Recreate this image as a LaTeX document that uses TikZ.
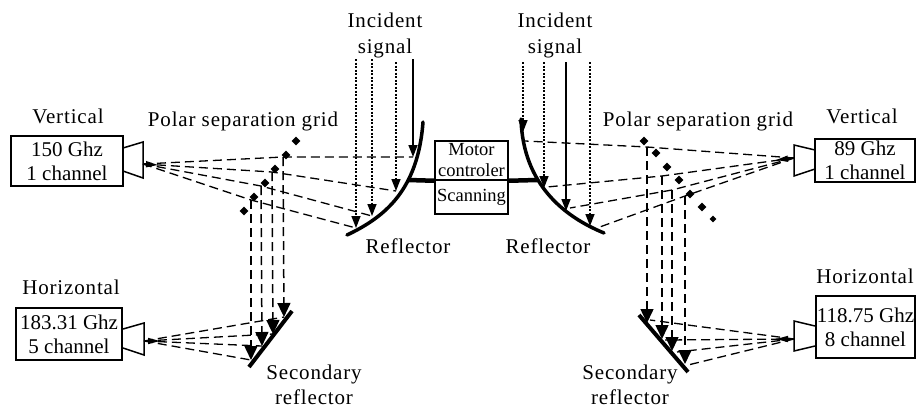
\documentclass[tikz,border=0pt]{standalone}
\usepackage{fontspec}
\setmainfont[LetterSpace=4]{Liberation Serif}
\newfontfamily\boxfont{Liberation Serif}
\usepackage{tikz}
\usetikzlibrary{arrows.meta}
\usetikzlibrary{shapes.geometric}
\tikzset{
	label/.style={font=\fontsize{21}{26}\selectfont, align=center, inner sep=0pt},
	bandbox/.style={draw, line width=2pt, inner sep=0pt, align=center, font=\boxfont\fontsize{21}{24}\selectfont},
	gridmark/.style={diamond, fill=black, inner sep=0pt, minimum size=9pt},
	ray/.style={dash pattern=on 9pt off 5pt, line width=1.3pt},
	down/.style={dash pattern=on 9pt off 5pt, line width=1.5pt, -{Triangle[length=14pt, width=13pt]}},
	solidin/.style={line width=1.5pt, -{Triangle[length=12pt, width=9pt]}},
	dotin/.style={dash pattern=on 2pt off 1.5pt, line width=1.5pt, -{Triangle[length=12pt, width=9pt]}},
	mirror/.style={line width=3.5pt, line cap=round},
	horn/.style={line width=1.5pt},
	feed/.style={line width=1.5pt, -{Triangle[length=12pt, width=6pt]}}
}
\begin{document}
\begin{tikzpicture}[x=1pt, y=-1pt]
	\useasboundingbox (0,0) rectangle (918,408);

	% Boxes
	\node[bandbox, minimum width=112pt, minimum height=50pt] (0) at (67,161) {150 Ghz\\1 channel};
	\node[bandbox, minimum width=106pt, minimum height=52pt] (1) at (69,334) {183.31 Ghz\\5 channel};
	\node[bandbox, minimum width=100pt, minimum height=43pt] (2) at (865,160.5) {89 Ghz\\1 channel};
	\node[bandbox, minimum width=99pt, minimum height=62pt] (3) at (865.5,327) {118.75 Ghz\\8 channel};
	\node[draw, line width=1.5pt, minimum width=73pt, minimum height=39pt, inner sep=0pt, align=center, font=\boxfont\fontsize{18.5}{21}\selectfont] (mc) at (471.5,160.5) {Motor\\controler};
	\node[draw, line width=1.5pt, minimum width=73pt, minimum height=34pt, inner sep=0pt, font=\boxfont\fontsize{18.5}{21}\selectfont] (sc) at (471.5,197) {Scanning};

	% Horns
	\draw[horn] (123,148) -- (143,142) -- (143,178) -- (123,171);
	\draw[horn] (123,329) -- (144,323) -- (144,355) -- (123,348);
	\draw[horn] (815,150) -- (794,145) -- (794,176) -- (815,169);
	\draw[horn] (815,326) -- (794,321) -- (794,351) -- (815,346);
	\coordinate (f0) at (143,164);
	\coordinate (f1) at (144,341);
	\coordinate (f2) at (794,158);
	\coordinate (f3) at (794,339);
	\draw[feed] (f0) -- (158,165);
	\draw[feed] (f1) -- (160,341);
	\draw[feed] (f2) -- (776,160);
	\draw[feed] (f3) -- (776,339);

	% Reflectors
	\coordinate (rl0) at (347,235);
	\coordinate (rl1) at (423,122);
	\coordinate (rl2) at (408,180);
	\coordinate (rr0) at (604,233);
	\coordinate (rr1) at (521,119);
	\coordinate (rr2) at (537,180);
	\draw[mirror] (rl0) .. controls (385,217) and (418,190) .. (rl1);
	\draw[mirror] (rr0) .. controls (565,217) and (523,185) .. (rr1);
	\draw[line width=4.5pt] (rl2) -- (mc.south west);
	\draw[line width=4.5pt] (mc.south east) -- (rr2);

	\coordinate (sl0) at (292,311);
	\coordinate (sl1) at (249,367);
	\coordinate (sr0) at (639,315);
	\coordinate (sr1) at (688,372);
	\draw[line width=4pt] (sl0) -- (sl1);
	\draw[line width=4pt] (sr0) -- (sr1);

	% Grids
	\node[gridmark] (g0) at (296,141) {};
	\node[gridmark] (g1) at (286,155) {};
	\node[gridmark] (g2) at (275,169) {};
	\node[gridmark] (g3) at (265,183) {};
	\node[gridmark] (g4) at (254,197) {};
	\node[gridmark] (g5) at (244,211) {};
	\node[gridmark] (h0) at (644,141) {};
	\node[gridmark] (h1) at (656,153) {};
	\node[gridmark] (h2) at (667,167) {};
	\node[gridmark] (h3) at (679,180) {};
	\node[gridmark] (h4) at (690,194) {};
	\node[gridmark] (h5) at (702,207) {};
	\node[gridmark, minimum size=7pt] (h6) at (713,219) {};

	% Incident signals
	\coordinate (il0) at (356,59);
	\coordinate (il1) at (372,59);
	\coordinate (il2) at (396,62);
	\coordinate (il3) at (413,59);
	\coordinate (ir0) at (523,62);
	\coordinate (ir1) at (544,62);
	\coordinate (ir2) at (566,62);
	\coordinate (ir3) at (590,62);
	\coordinate (al0) at (356,228);
	\coordinate (al1) at (372,216);
	\coordinate (al2) at (396,191);
	\coordinate (al3) at (413,157);
	\coordinate (ar0) at (523,132);
	\coordinate (ar1) at (544,188);
	\coordinate (ar2) at (566,211);
	\coordinate (ar3) at (590,226);
	\draw[dotin] (il0) -- (al0);
	\draw[dotin] (il1) -- (al1);
	\draw[dotin] (il2) -- (al2);
	\draw[solidin] (il3) -- (al3);
	\draw[dotin] (ir0) -- (ar0);
	\draw[dotin] (ir1) -- (ar1);
	\draw[solidin] (ir2) -- (ar2);
	\draw[dotin] (ir3) -- (ar3);

	% Rays left
	\coordinate (p0) at (283,157);
	\coordinate (p1) at (272,172);
	\coordinate (p2) at (261,186);
	\coordinate (p3) at (251,200);
	\coordinate (b0) at (284,317);
	\coordinate (b1) at (273,334);
	\coordinate (b2) at (262,346);
	\coordinate (b3) at (251,360);
	\draw[ray] (f0) -- (p0) -- (al3);
	\draw[ray] (f0) -- (p1) -- (al2);
	\draw[ray] (f0) -- (p2) -- (al1);
	\draw[ray] (f0) -- (p3) -- (al0);
	\draw[down] (p0) -- (b0);
	\draw[down] (p1) -- (b1);
	\draw[down] (p2) -- (b2);
	\draw[down] (p3) -- (b3);
	\draw[ray] (f1) -- (b0);
	\draw[ray] (f1) -- (b1);
	\draw[ray] (f1) -- (b2);
	\draw[ray] (f1) -- (b3);

	% Rays right
	\coordinate (q0) at (647,147);
	\coordinate (q1) at (662,176);
	\coordinate (q2) at (672,190);
	\coordinate (q3) at (685,196);
	\coordinate (c0) at (647,323);
	\coordinate (c1) at (662,339);
	\coordinate (c2) at (672,351);
	\coordinate (c3) at (685,364);
	\coordinate (e0) at (525,141);
	\coordinate (e1) at (547,187);
	\coordinate (e2) at (570,208);
	\coordinate (e3) at (597,228);
	\draw[ray] (f2) -- (q0) -- (e0);
	\draw[ray] (f2) -- (q1) -- (e1);
	\draw[ray] (f2) -- (q2) -- (e2);
	\draw[ray] (f2) -- (q3) -- (e3);
	\draw[down] (q0) -- (c0);
	\draw[down] (q1) -- (c1);
	\draw[down] (q2) -- (c2);
	\draw[down] (q3) -- (c3);
	\coordinate (d0) at (650,320);
	\coordinate (d1) at (665,340);
	\coordinate (d2) at (677,352);
	\coordinate (d3) at (688,365);
	\draw[ray] (f3) -- (d0);
	\draw[ray] (f3) -- (d1);
	\draw[ray] (f3) -- (d2);
	\draw[ray] (f3) -- (d3);

	% Labels
	\node[label] (t0) at (385,35) {Incident\\signal};
	\node[label] (t1) at (555,35) {Incident\\signal};
	\node[label] (t2) at (68,116) {Vertical};
	\node[label] (t3) at (862,116) {Vertical};
	\node[label] (t4) at (243,121) {Polar separation grid};
	\node[label] (t5) at (698,121) {Polar separation grid};
	\node[label] (t6) at (408,246) {Reflector};
	\node[label] (t7) at (548,246) {Reflector};
	\node[label] (t8) at (71,287) {Horizontal};
	\node[label] (t9) at (865,276) {Horizontal};
	\node[label, font=\fontsize{21}{25}\selectfont] (t10) at (314,384.5) {Secondary\\reflector};
	\node[label, font=\fontsize{21}{25}\selectfont] (t11) at (630,384.5) {Secondary\\reflector};
\end{tikzpicture}
\end{document}
